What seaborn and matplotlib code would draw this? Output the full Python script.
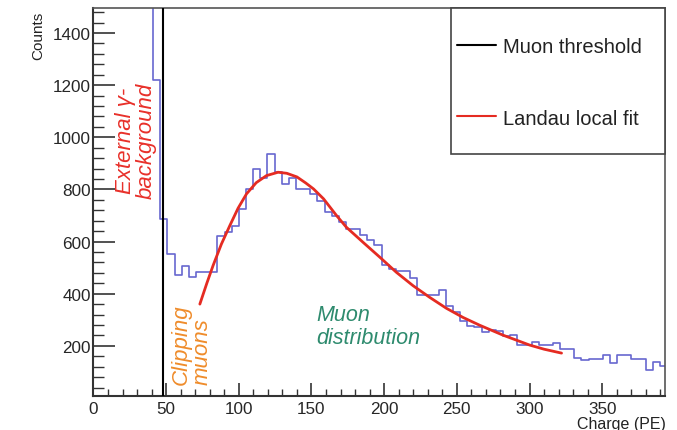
import numpy as np
import pandas as pd
import matplotlib
matplotlib.use("Agg")
import matplotlib.pyplot as plt
import seaborn as sns
from matplotlib.ticker import MultipleLocator
from matplotlib.patches import Rectangle
from matplotlib.lines import Line2D

# ---------------- data ----------------
bin_start = 36.2          # PE, left edge of first bin
bin_width = 4.91          # PE
counts = [1600, 1220, 685, 552, 472, 507, 463, 484, 484, 484,
          620, 636, 661, 725, 802, 879, 843, 937, 866, 821,
          843, 802, 802, 783, 757, 712, 697, 674, 648, 648,
          625, 605, 587, 510, 495, 488, 488, 460, 395, 395,
          395, 415, 351, 331, 296, 277, 271, 252, 260, 258,
          236, 240, 204, 204, 215, 203, 203, 209, 188, 188,
          155, 147, 150, 150, 164, 134, 164, 164, 149, 149,
          107, 139, 123]
threshold = 48.0
fit_x = [73.2, 78, 82.3, 88, 93.8, 99.5, 105.3, 112, 119, 127, 133, 140, 146,
         151.4, 158.3, 167.2, 174, 185.5, 197, 208.4, 219.8, 231.3, 242.8,
         254.2, 265.7, 281.7, 300, 310, 322]
fit_y = [360, 440, 508, 590, 661, 728, 783, 826, 853, 866, 862, 848, 825,
         802, 764, 700, 655, 597, 540, 482, 431, 386, 344,
         309, 279, 241, 203, 187, 172]
x_ticks = [0, 50, 100, 150, 200, 250, 300, 350]
y_ticks = [200, 400, 600, 800, 1000, 1200, 1400]
legend_labels = ["Muon threshold", "Landau local fit"]

# ---------------- style ----------------
sns.set_theme(style="white")
plt.rcParams['font.family'] = ['Liberation Sans', 'DejaVu Sans']

fig = plt.figure(figsize=(6.77, 4.31), dpi=100)
ax = fig.add_axes([0.138, 0.078, 0.845, 0.901])

edges = [bin_start + bin_width * i for i in range(len(counts) + 1)]
centers = [(edges[i] + edges[i + 1]) / 2 for i in range(len(counts))]
df = pd.DataFrame({"charge": centers, "counts": counts})
sns.histplot(data=df, x="charge", weights="counts", bins=edges,
             element="step", fill=False, color="#6767cf", linewidth=1.2, ax=ax)

ax.axvline(threshold, color="black", lw=1.5, zorder=3)
fit_df = pd.DataFrame({"x": fit_x, "y": fit_y})
sns.lineplot(data=fit_df, x="x", y="y", sort=False, color="#e52b22", lw=2.0,
             ax=ax, zorder=4)

ax.set_xlim(0, 393.5)
ax.set_ylim(6, 1496)
ax.set_xlabel("")
ax.set_ylabel("")

ax.set_xticks(x_ticks)
ax.set_xticklabels([str(v) for v in x_ticks])
ax.xaxis.set_minor_locator(MultipleLocator(10))
ax.set_yticks(y_ticks)
ax.set_yticklabels([str(v) for v in y_ticks])
ax.yaxis.set_minor_locator(MultipleLocator(40))
ax.tick_params(axis="y", which="major", direction="in", length=16, width=1.2,
               pad=2, labelsize=12.3, labelcolor="#262626", color="#333333", left=True)
ax.tick_params(axis="y", which="minor", direction="in", length=8, width=1.0,
               color="#333333", left=True)
ax.tick_params(axis="x", which="major", direction="in", length=9.5, width=1.2,
               pad=3.5, labelsize=12.3, labelcolor="#262626", color="#333333", bottom=True)
ax.tick_params(axis="x", which="minor", direction="in", length=5, width=1.0,
               color="#333333", bottom=True)

for side in ["left", "bottom"]:
    ax.spines[side].set_color("#333333")
    ax.spines[side].set_linewidth(1.5)
for side in ["top", "right"]:
    ax.spines[side].set_color("#555555")
    ax.spines[side].set_linewidth(1.2)

# legend box
ax.add_patch(Rectangle((0.625, 0.624), 0.375, 0.376, transform=ax.transAxes,
                       facecolor="white", edgecolor="#444444", lw=1.2, zorder=5,
                       clip_on=False))
handles = [Line2D([], [], color="black", lw=1.5),
           Line2D([], [], color="#e52b22", lw=1.5)]
leg = ax.legend(handles, legend_labels, loc="upper left",
                bbox_to_anchor=(0.635, 0.925), frameon=False, fontsize=14.5,
                handlelength=1.95, handletextpad=0.35, labelspacing=2.6,
                borderaxespad=0, borderpad=0)
leg.set_zorder(6)
for t in leg.get_texts():
    t.set_color("#222222")

# annotations
ax.text(29.2, 990, "External \u03b3-\nbackground", rotation=90, ha="center",
        va="center", multialignment="center", color="#e8302a", fontsize=16,
        style="italic", linespacing=1.0)
ax.text(67.5, 53, "Clipping\nmuons", rotation=90, ha="center", va="bottom",
        multialignment="left", color="#ef8c2b", fontsize=16, style="italic",
        linespacing=1.0)
ax.text(153.4, 360, "Muon\ndistribution", ha="left", va="top",
        color="#2e8b6e", fontsize=15.5, style="italic", linespacing=1.1)

fig.text(38 / 677, 1 - 12 / 431, "Counts", rotation=90, ha="center", va="top",
         fontsize=11, color="#222222")
ax.text(1.0, -0.05, "Charge (PE)", transform=ax.transAxes, ha="right",
        va="top", fontsize=11.5, color="#222222")

fig.savefig("out.png", dpi=100)
